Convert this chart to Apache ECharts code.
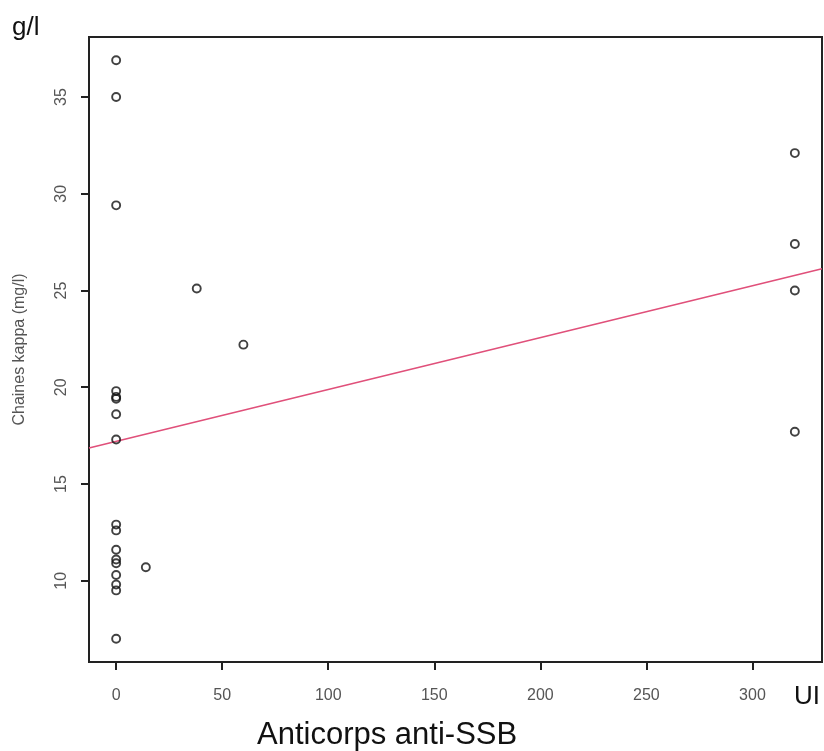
<!DOCTYPE html>
<html>
<head>
<meta charset="utf-8">
<style>html,body{margin:0;padding:0;background:#fff;}#chart{width:824px;height:751px;}</style>
<script src="https://cdn.jsdelivr.net/npm/echarts@6/dist/echarts.min.js"></script>
</head>
<body>
<div id="chart"></div>
<script>
// Data
const antiSSB = [0,0,0,0,0,0,0,0,0,0,0,0,0,0,0,0,0, 14, 38, 60, 320,320,320,320];
const kappa   = [36.9,35.0,29.4,19.8,19.5,19.4,18.6,17.3,12.9,12.6,11.6,11.1,10.9,10.3,9.8,9.5,7.0, 10.7, 25.1, 22.2, 32.1,27.4,25.0,17.7];
const xTicks = [0,50,100,150,200,250,300];
const yTicks = [10,15,20,25,30,35];
const fitIntercept = 17.2;
const fitSlope = 0.0268;
const xRange = [-12.8, 332.8];
const yRange = [5.8, 38.1];

const points = antiSSB.map((x,i)=>[x,kappa[i]]);
const fitLine = xRange.map(x=>[x, fitIntercept + fitSlope*x]);

const chart = echarts.init(document.getElementById('chart'));
const FONT = 'Liberation Sans, Arial, sans-serif';
chart.setOption({
  animation:false,
  backgroundColor:'#fff',
  grid:{left:89,top:37,right:2,bottom:89,show:true,borderColor:'#222',borderWidth:2,backgroundColor:'transparent'},
  xAxis:{
    type:'value', min:xRange[0], max:xRange[1],
    splitLine:{show:false},
    axisLine:{show:true,onZero:false,lineStyle:{color:'#222',width:2}},
    axisTick:{show:true,length:8,customValues:xTicks,lineStyle:{color:'#222',width:2}},
    axisLabel:{customValues:xTicks,margin:26,fontSize:16,color:'#555',fontFamily:FONT}
  },
  yAxis:{
    type:'value', min:yRange[0], max:yRange[1],
    name:'Chaines kappa (mg/l)', nameLocation:'middle', nameGap:61,
    nameTextStyle:{fontSize:16,color:'#555',fontFamily:FONT},
    splitLine:{show:false},
    axisLine:{show:true,onZero:false,lineStyle:{color:'#222',width:2}},
    axisTick:{show:true,length:8,customValues:yTicks,lineStyle:{color:'#222',width:2}},
    axisLabel:{customValues:yTicks,rotate:90,margin:19,fontSize:16,color:'#555',fontFamily:FONT}
  },
  series:[
    {type:'scatter',data:points,symbol:'circle',symbolSize:8,
     itemStyle:{color:'rgba(255,255,255,0)',borderColor:'#111',borderWidth:1.9},z:3},
    {type:'line',data:fitLine,symbol:'none',clip:true,
     lineStyle:{color:'#e0507a',width:1.6},z:2}
  ],
  graphic:[
    {type:'text',left:12,top:15,style:{text:'g/l',font:'26px '+FONT,fill:'#111'}},
    {type:'text',left:794,top:684,style:{text:'UI',font:'26px '+FONT,fill:'#111'}},
    {type:'text',left:257,top:720,style:{text:'Anticorps anti-SSB',font:'31px '+FONT,fill:'#111'}}
  ]
});
</script>
</body>
</html>
